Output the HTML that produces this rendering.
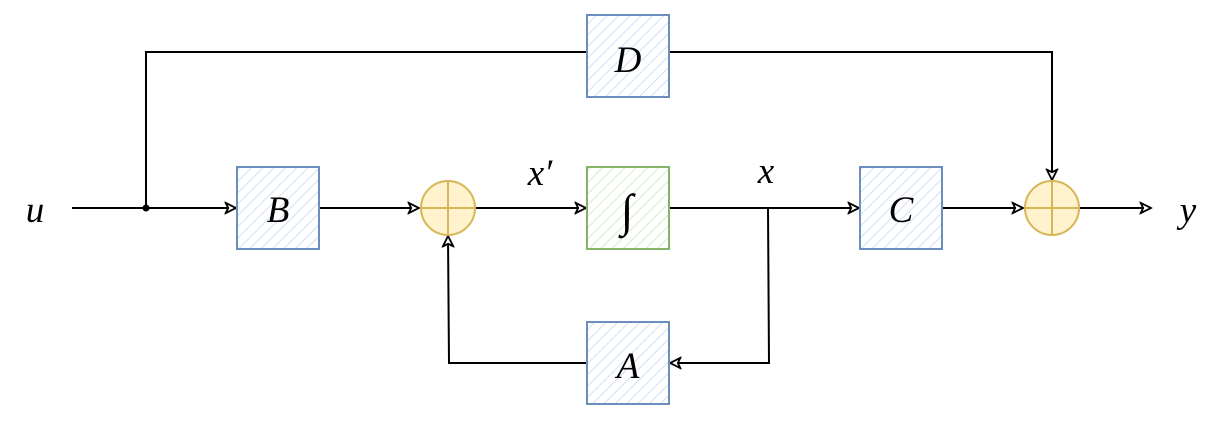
<!DOCTYPE html>
<html><head><meta charset="utf-8"><style>
html,body{margin:0;padding:0;background:#fff;}
svg text{font-family:"Liberation Serif",serif;font-style:italic;}
</style></head><body>
<svg width="1222" height="418" viewBox="0 0 1222 418" xmlns="http://www.w3.org/2000/svg">
<defs>
<pattern id="hb" width="8" height="8" patternUnits="userSpaceOnUse" patternTransform="rotate(45)">
<rect width="8" height="8" fill="#fff"/><line x1="0" y1="0" x2="0" y2="8" stroke="#cfe0f3" stroke-width="2"/></pattern>
<pattern id="hg" width="8" height="8" patternUnits="userSpaceOnUse" patternTransform="rotate(45)">
<rect width="8" height="8" fill="#fff"/><line x1="0" y1="0" x2="0" y2="8" stroke="#d4ebcc" stroke-width="2"/></pattern>
<marker id="ar" viewBox="0 0 10 10" refX="9" refY="5" markerWidth="13" markerHeight="13" orient="auto" markerUnits="userSpaceOnUse">
<path d="M1,1 L9,5 L1,9 L3,5 Z" fill="#fff" stroke="#000" stroke-width="1.4"/></marker>
</defs>
<g stroke="#000" stroke-width="2" fill="none">
<line x1="72" y1="208" x2="236" y2="208" marker-end="url(#ar)"/>
<polyline points="146,208 146,52 587,52"/>
<polyline points="669,52 1052,52 1052,180" marker-end="url(#ar)"/>
<line x1="319" y1="208" x2="419" y2="208" marker-end="url(#ar)"/>
<line x1="476" y1="208" x2="586" y2="208" marker-end="url(#ar)"/>
<line x1="669" y1="208" x2="859" y2="208" marker-end="url(#ar)"/>
<polyline points="768,208 769,363 670,363" marker-end="url(#ar)"/>
<polyline points="587,363 449,363 448,236" marker-end="url(#ar)"/>
<line x1="942" y1="208" x2="1023" y2="208" marker-end="url(#ar)"/>
<line x1="1080" y1="208" x2="1151" y2="208" marker-end="url(#ar)"/>
</g>
<circle cx="146" cy="208" r="3.5" fill="#000"/>
<g stroke="#6c8ebf" stroke-width="2">
<rect x="587" y="15" width="82" height="82" fill="url(#hb)"/>
<rect x="237" y="167" width="82" height="82" fill="url(#hb)"/>
<rect x="860" y="167" width="82" height="82" fill="url(#hb)"/>
<rect x="587" y="322" width="82" height="82" fill="url(#hb)"/>
</g>
<rect x="587" y="167" width="82" height="82" fill="url(#hg)" stroke="#82b366" stroke-width="2"/>
<g stroke="#d6b656" stroke-width="2" fill="#fff2cc">
<circle cx="448" cy="208" r="27"/><line x1="421" y1="208" x2="475" y2="208"/><line x1="448" y1="181" x2="448" y2="235"/>
<circle cx="1052" cy="208" r="27"/><line x1="1025" y1="208" x2="1079" y2="208"/><line x1="1052" y1="181" x2="1052" y2="235"/>
</g>
<g font-size="37" fill="#000" text-anchor="middle">
<text x="628" y="72">D</text>
<text x="278" y="222">B</text>
<text x="901" y="222">C</text>
<text x="628" y="378">A</text>
<text x="627" y="226" font-size="46" style="font-style:normal">∫</text>
<text x="35" y="222">u</text>
<text x="1188" y="222">y</text>
<text x="540" y="185">x′</text>
<text x="766" y="183">x</text>
</g>
</svg>
</body></html>
